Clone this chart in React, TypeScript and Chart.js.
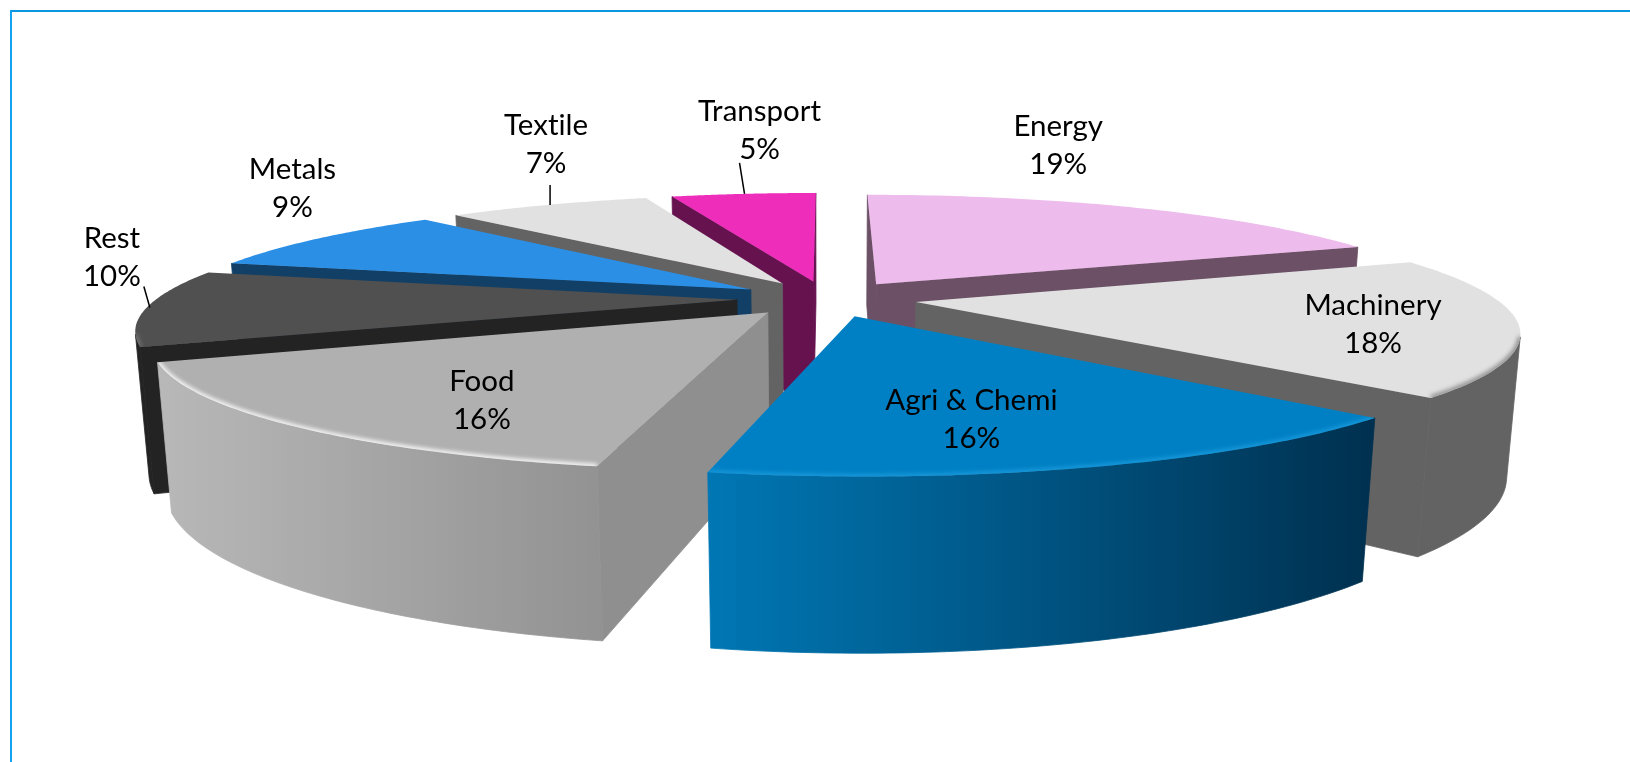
import React, { useEffect, useRef } from "react";
import { Chart, registerables } from "chart.js";

Chart.register(...registerables);

const categories = ["Energy", "Machinery", "Agri & Chemi", "Food", "Rest", "Metals", "Textile", "Transport"];
const shares = [19, 18.2, 16, 15.7, 10.1, 9, 7, 5];
const explode = [90, 90, 90, 90, 90, 90, 90, 90];

const topColors = ["#edbbec", "#e1e1e1", "#0080c4", "#b0b0b0", "#505050", "#2b8fe6", "#e1e1e1", "#ef2dbb"];
const radialWallColors = ["#6b5066", "#636363", "#00304f", "#8f8f8f", "#232323", "#123f66", "#636363", "#66124f"];
const outerWallStart = ["#6b5066", "#636363", "#0077b4", "#b8b8b8", "#232323", "#123f66", "#636363", "#66124f"];
const outerWallEnd = ["#6b5066", "#636363", "#00304f", "#929292", "#232323", "#123f66", "#636363", "#66124f"];
const rimColors = [null, "rgba(120,120,120,0.8)", "rgba(40,170,235,0.6)", "rgba(255,255,255,0.95)", "rgba(130,130,130,0.7)", null, null, null];

const drawOrder = [0, 7, 6, 5, 4, 1, 3, 2];
const labelNudge = [[-79, -62], [-146, -1], [-120, -48], [190, -26], [-35, -50], [-25, -50], [-2, -60], [16, -63]];
const leaders = [null, null, null, null, [[-3, -21], [3, 0]], null, [[2, -20], [2, 0]], [[-4, -31], [1, 0]]];

const PERSPECTIVE = 0.224;
const WALL_RECEDE = 0.019;
const TILT = 0.1985;
const DEPTH = 0.238;
const RADIUS = 580;
const LINE_GAP = 38;

const pie3d = {
  id: "pie3d",
  beforeDatasetDraw(chart: any) {
    const ctx = chart.ctx;
    const arcs = chart.getDatasetMeta(0).data;
    const geom = (el: any) => {
      const R = el.outerRadius;
      const mid = (el.startAngle + el.endAngle) / 2;
      const off = el.options.offset / R;
      const ox = Math.cos(mid) * off;
      const oy = -Math.sin(mid) * off;
      const proj = (X: number, Y: number, z: number) => {
        const w = 1 + PERSPECTIVE * Y + WALL_RECEDE * z;
        return { x: el.x + (R * X) / w, y: el.y - (R * TILT * Y) / w + (R * DEPTH * z) / w };
      };
      const rim = (a: number, r: number, z: number) => proj(ox + r * Math.cos(a), oy - r * Math.sin(a), z);
      return { R, mid, rim };
    };
    const area = (pts: any[]) => {
      let s = 0;
      pts.forEach((p, i) => {
        const q = pts[(i + 1) % pts.length];
        s += p.x * q.y - q.x * p.y;
      });
      return s;
    };
    const poly = (pts: any[]) => {
      ctx.beginPath();
      pts.forEach((p, i) => (i ? ctx.lineTo(p.x, p.y) : ctx.moveTo(p.x, p.y)));
      ctx.closePath();
    };
    const paint = (pts: any[], fill: any, seal = false) => {
      poly(pts);
      ctx.fillStyle = fill;
      ctx.fill();
      if (seal) {
        ctx.strokeStyle = fill;
        ctx.lineWidth = 0.8;
        ctx.stroke();
      }
    };

    ctx.save();
    drawOrder.forEach((i) => {
      const el = arcs[i];
      const { rim } = geom(el);
      const n = 64;
      const angles = Array.from({ length: n + 1 }, (_, j) => el.startAngle + ((el.endAngle - el.startAngle) * j) / n);

      // radial walls
      [
        [rim(0, 0, 0), rim(el.startAngle, 1, 0), rim(el.startAngle, 1, 1), rim(0, 0, 1)],
        [rim(el.endAngle, 1, 0), rim(0, 0, 0), rim(0, 0, 1), rim(el.endAngle, 1, 1)],
      ].forEach((q) => {
        if (area(q) < 0) paint(q, radialWallColors[i], true);
      });

      // outer wall
      const topPts: any[] = [];
      const botPts: any[] = [];
      for (let j = 0; j < n; j++) {
        const q = [rim(angles[j], 1, 0), rim(angles[j + 1], 1, 0), rim(angles[j + 1], 1, 1), rim(angles[j], 1, 1)];
        if (area(q) < 0) {
          if (!topPts.length) {
            topPts.push(q[0]);
            botPts.push(q[3]);
          }
          topPts.push(q[1]);
          botPts.push(q[2]);
        }
      }
      const rimPath = [...topPts];
      if (topPts.length) {
        const pts = [...topPts, ...botPts.reverse()];
        const xs = pts.map((p) => p.x);
        const g = ctx.createLinearGradient(Math.min(...xs), 0, Math.max(...xs), 0);
        g.addColorStop(0, outerWallStart[i]);
        g.addColorStop(1, outerWallEnd[i]);
        paint(pts, g, true);
      }

      // top face
      const face = [rim(0, 0, 0), ...angles.map((a) => rim(a, 1, 0))];
      paint(face, topColors[i]);

      // soft bevel on the viewer-facing edge
      if (rimColors[i] && rimPath.length) {
        ctx.save();
        poly(face);
        ctx.clip();
        ctx.filter = "blur(2px)";
        ctx.beginPath();
        rimPath.forEach((p, j) => (j ? ctx.lineTo(p.x, p.y) : ctx.moveTo(p.x, p.y)));
        ctx.strokeStyle = rimColors[i];
        ctx.lineWidth = 5;
        ctx.stroke();
        ctx.restore();
      }
    });

    // labels and leader lines
    ctx.textAlign = "center";
    ctx.textBaseline = "middle";
    ctx.font = '29.5px Lato, "Open Sans", sans-serif';
    (ctx as any).textRendering = "optimizeSpeed";
    arcs.forEach((el: any, i: number) => {
      const { mid, rim } = geom(el);
      const p = rim(mid, 1, 0);
      const [dx, dy] = labelNudge[i];
      ctx.fillStyle = "#000000";
      ctx.fillText(categories[i], p.x + dx, p.y + dy - LINE_GAP / 2);
      ctx.fillText(`${Math.round(shares[i])}%`, p.x + dx, p.y + dy + LINE_GAP / 2);
      const l = leaders[i];
      if (l) {
        ctx.beginPath();
        ctx.moveTo(p.x + l[0][0], p.y + l[0][1]);
        ctx.lineTo(p.x + l[1][0], p.y + l[1][1]);
        ctx.strokeStyle = "#000000";
        ctx.lineWidth = 1.5;
        ctx.stroke();
      }
    });
    ctx.restore();
    return false;
  },
};

export default function App() {
  const ref = useRef<HTMLCanvasElement>(null);
  useEffect(() => {
    const chart = new Chart(ref.current as HTMLCanvasElement, {
      type: "pie",
      data: {
        labels: categories,
        datasets: [{ data: shares, backgroundColor: topColors, offset: explode, borderWidth: 0 }],
      },
      options: {
        responsive: false,
        animation: false,
        radius: RADIUS,
        layout: { padding: { left: 24, bottom: 165 } },
        plugins: { legend: { display: false }, tooltip: { enabled: false } },
      } as any,
      plugins: [pie3d as any],
    });
    return () => chart.destroy();
  }, []);
  return (
    <div style={{ position: "fixed", inset: 0, background: "#fff", overflow: "hidden" }}>
      <canvas ref={ref} width={1630} height={762} style={{ position: "absolute", left: 0, top: 0, display: "block" }} />
      <div
        style={{
          position: "absolute",
          left: 10,
          top: 10,
          right: 0,
          bottom: 0,
          borderTop: "2px solid #0c96e2",
          borderLeft: "2px solid #12a2ee",
        }}
      />
    </div>
  );
}
